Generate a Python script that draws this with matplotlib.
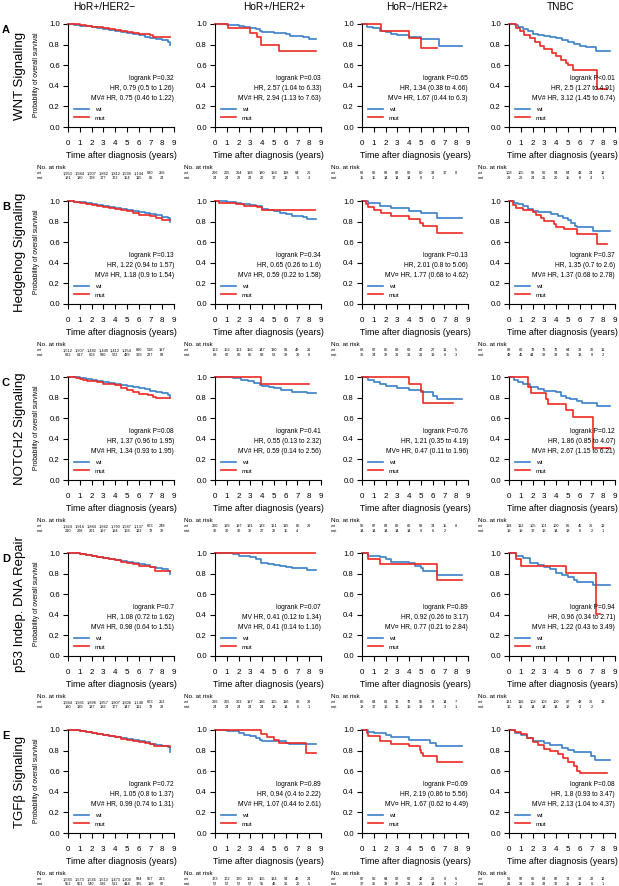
import matplotlib
matplotlib.use("Agg")
import matplotlib.pyplot as plt

plt.rcParams["font.family"] = ["Liberation Sans", "DejaVu Sans"]

W, H = 619, 886
BLUE = "#3a80c8"
RED = "#ee2a24"

col_titles = ["HoR+/HER2\u2212", "HoR+/HER2+", "HoR\u2212/HER2+", "TNBC"]
row_titles = ["WNT Signaling", "Hedgehog Signaling", "NOTCH2 Signaling",
              "p53 Indep. DNA Repair", "TGF\u03b2 Signaling"]
row_letters = ["A", "B", "C", "D", "E"]
years = [0, 1, 2, 3, 4, 5, 6, 7, 8, 9]

# ---- survival curves (time, survival) ----
A1_wt = [(0, 1), (0.5, 0.995), (1, 0.985), (1.5, 0.977), (2, 0.968), (2.5, 0.958), (3, 0.948), (3.5, 0.94),
         (4, 0.93), (4.5, 0.921), (5, 0.91), (5.5, 0.9), (6, 0.89), (6.5, 0.878), (7, 0.866), (7.5, 0.855),
         (8, 0.843), (8.5, 0.83), (8.7, 0.8)]
A1_mut = [(0, 1), (0.5, 0.997), (1, 0.99), (1.5, 0.983), (2, 0.975), (2.5, 0.968), (3, 0.96), (3.5, 0.952),
          (4, 0.942), (4.5, 0.932), (5, 0.922), (5.5, 0.913), (6, 0.905), (6.5, 0.9), (7, 0.895), (7.2, 0.875),
          (8.7, 0.875)]
A2_wt = [(0, 1), (1, 0.995), (1.5, 0.99), (2, 0.98), (2.5, 0.97), (3, 0.96), (3.5, 0.95), (3.8, 0.935), (4, 0.925),
         (4.5, 0.92), (5, 0.915), (5.5, 0.91), (6, 0.9), (6.4, 0.885), (7, 0.88), (7.5, 0.87), (8, 0.858), (8.6, 0.858)]
A2_mut = [(0, 1), (1.1, 0.958), (3.0, 0.917), (3.6, 0.875), (3.9, 0.792), (5.4, 0.735), (8.6, 0.735)]
A3_wt = [(0, 1), (0.4, 0.975), (0.9, 0.96), (1.5, 0.935), (2.0, 0.92), (2.5, 0.905), (3.0, 0.895), (4.0, 0.875),
         (5.0, 0.85), (6.5, 0.79), (8.5, 0.79)]
A3_mut = [(0, 1), (1.6, 0.933), (4.0, 0.867), (5.0, 0.77), (6.4, 0.77)]
A4_wt = [(0, 1), (0.5, 0.99), (0.8, 0.975), (1.2, 0.955), (1.6, 0.93), (2.0, 0.905), (2.5, 0.895), (3.0, 0.885),
         (3.5, 0.875), (4.0, 0.86), (4.5, 0.84), (5.0, 0.825), (5.5, 0.81), (6.0, 0.79), (6.5, 0.775), (7.4, 0.74),
         (8.6, 0.74)]
A4_mut = [(0, 1), (0.56, 0.965), (0.9, 0.93), (1.3, 0.895), (1.75, 0.86), (2.2, 0.825), (2.6, 0.79), (3.0, 0.755),
          (3.65, 0.72), (4.0, 0.69), (4.4, 0.655), (4.8, 0.62), (5.0, 0.6), (5.4, 0.552), (7.5, 0.367), (8.3, 0.367)]

B1_wt = [(0, 1), (0.5, 0.995), (1, 0.987), (1.5, 0.978), (2, 0.968), (2.5, 0.96), (3, 0.95), (3.5, 0.94), (4, 0.93),
         (4.5, 0.92), (5, 0.91), (5.5, 0.902), (6, 0.895), (6.5, 0.882), (7, 0.87), (7.5, 0.86), (8, 0.848),
         (8.5, 0.835), (8.7, 0.8)]
B1_mut = [(0, 1), (0.5, 0.995), (1, 0.984), (1.5, 0.975), (2, 0.965), (2.5, 0.955), (3, 0.946), (3.5, 0.935),
          (4, 0.925), (4.5, 0.912), (5, 0.9), (5.5, 0.882), (6, 0.866), (6.5, 0.86), (7, 0.85), (7.5, 0.835),
          (8, 0.812), (8.7, 0.812)]
B2_wt = [(0, 1), (1.0, 0.995), (1.8, 0.985), (2.2, 0.975), (3.0, 0.965), (3.5, 0.95), (4.0, 0.925), (4.5, 0.91),
         (5.0, 0.9), (5.5, 0.885), (6.0, 0.87), (6.5, 0.85), (7.5, 0.845), (7.8, 0.824), (8.6, 0.824)]
B2_mut = [(0, 1), (0.3, 0.985), (1.8, 0.97), (2.5, 0.955), (3.6, 0.94), (4.0, 0.915), (8.5, 0.915)]
B3_wt = [(0, 1), (0.5, 0.985), (1.5, 0.955), (2.5, 0.93), (4.0, 0.905), (5.0, 0.885), (6.4, 0.837), (8.5, 0.837)]
B3_mut = [(0, 1), (0.3, 0.97), (0.5, 0.94), (1.0, 0.91), (1.6, 0.882), (2.5, 0.855), (4.0, 0.83), (4.9, 0.79),
          (5.2, 0.76), (6.4, 0.687), (8.5, 0.687)]
B4_wt = [(0, 1), (0.4, 0.985), (0.8, 0.97), (1.2, 0.95), (1.6, 0.925), (2.0, 0.9), (2.5, 0.89), (3.6, 0.87),
         (4.2, 0.855), (4.6, 0.835), (5.0, 0.815), (5.3, 0.79), (5.6, 0.76), (5.8, 0.75), (7.1, 0.71), (8.6, 0.71)]
B4_mut = [(0, 1), (0.35, 0.965), (0.6, 0.935), (1.2, 0.912), (2.0, 0.89), (2.3, 0.865), (2.7, 0.835), (3.0, 0.805),
          (3.8, 0.78), (4.0, 0.752), (4.7, 0.732), (5.8, 0.68), (7.5, 0.583), (8.3, 0.583)]

C1_wt = [(0, 1), (0.5, 0.997), (1, 0.99), (1.5, 0.982), (2, 0.973), (2.5, 0.965), (3, 0.955), (3.5, 0.945),
         (4, 0.935), (4.5, 0.925), (5, 0.913), (5.5, 0.903), (6, 0.893), (6.5, 0.88), (7, 0.868), (7.5, 0.855),
         (8, 0.842), (8.5, 0.83), (8.7, 0.8)]
C1_mut = [(0, 1), (0.7, 0.995), (1.0, 0.985), (1.3, 0.97), (1.6, 0.958), (2.5, 0.952), (3.0, 0.93), (4.0, 0.918),
          (4.5, 0.895), (5.0, 0.875), (5.5, 0.855), (6.0, 0.838), (6.8, 0.825), (7.2, 0.81), (7.5, 0.8), (8.7, 0.8)]
C2_wt = [(0, 1), (1.5, 0.99), (2.2, 0.975), (2.8, 0.96), (3.3, 0.945), (3.8, 0.925), (4.0, 0.912), (4.6, 0.903),
         (5.0, 0.89), (5.6, 0.878), (6.0, 0.87), (6.5, 0.855), (7.8, 0.84), (8.6, 0.84)]
C2_mut = [(0, 1), (3.9, 0.935), (8.0, 0.935)]
C3_wt = [(0, 1), (0.5, 0.975), (1.0, 0.955), (1.5, 0.93), (2.0, 0.91), (3.0, 0.89), (4.0, 0.87), (5.0, 0.85),
         (6.0, 0.82), (6.4, 0.785), (8.5, 0.785)]
C3_mut = [(0, 1), (4.0, 0.93), (5.0, 0.86), (5.2, 0.746), (7.7, 0.746)]
C4_wt = [(0, 1), (0.4, 0.975), (0.8, 0.955), (1.2, 0.935), (1.8, 0.905), (2.5, 0.88), (3.0, 0.865), (4.0, 0.85),
         (4.4, 0.82), (4.8, 0.8), (5.2, 0.785), (5.8, 0.765), (6.2, 0.748), (7.0, 0.745), (7.5, 0.715), (8.6, 0.715)]
C4_mut = [(0, 1), (1.6, 0.9), (1.9, 0.842), (3.1, 0.79), (3.3, 0.737), (4.8, 0.684), (5.4, 0.61), (7.1, 0.31),
          (8.6, 0.31)]

D1_wt = [(0, 1), (0.5, 0.997), (1, 0.99), (1.5, 0.982), (2, 0.973), (2.5, 0.963), (3, 0.953), (3.5, 0.942),
         (4, 0.932), (4.5, 0.92), (5, 0.91), (5.5, 0.9), (6, 0.892), (6.5, 0.88), (7, 0.865), (7.5, 0.852),
         (8, 0.84), (8.5, 0.83), (8.7, 0.8)]
D1_mut = [(0, 1), (0.5, 0.997), (1, 0.99), (1.5, 0.98), (2, 0.97), (2.5, 0.962), (3, 0.952), (3.5, 0.94),
          (4, 0.93), (4.5, 0.915), (5, 0.905), (5.5, 0.893), (6, 0.875), (6.5, 0.87), (7, 0.863), (7.4, 0.83),
          (8.0, 0.828), (8.7, 0.828)]
D2_wt = [(0, 1), (1.5, 0.99), (2.0, 0.975), (3.0, 0.96), (3.5, 0.94), (3.9, 0.905), (4.5, 0.895), (5.0, 0.88),
         (5.5, 0.87), (6.0, 0.86), (6.5, 0.85), (7.8, 0.835), (8.6, 0.835)]
D2_mut = [(0, 1), (8.5, 1)]
D3_wt = [(0, 1), (0.5, 0.975), (1.5, 0.96), (2.0, 0.94), (2.5, 0.91), (4.0, 0.905), (4.5, 0.875), (5.0, 0.85),
         (5.2, 0.825), (6.4, 0.79), (8.5, 0.79)]
D3_mut = [(0, 1), (0.5, 0.945), (1.5, 0.895), (6.4, 0.741), (8.5, 0.741)]
D4_wt = [(0, 1), (0.6, 0.97), (1.2, 0.95), (1.8, 0.9), (2.5, 0.88), (3.0, 0.86), (3.5, 0.84), (4.0, 0.81),
         (4.5, 0.785), (5.0, 0.77), (5.5, 0.74), (5.8, 0.72), (7.1, 0.69), (8.6, 0.69)]
D4_mut = [(0, 1), (0.6, 0.94), (1.0, 0.875), (4.8, 0.81), (7.4, 0.405), (7.7, 0.405)]

E1_wt = [(0, 1), (0.5, 0.998), (1, 0.99), (1.5, 0.98), (2, 0.972), (2.5, 0.963), (3, 0.953), (3.5, 0.943),
         (4, 0.933), (4.5, 0.923), (5, 0.913), (5.5, 0.903), (6, 0.893), (6.5, 0.88), (7, 0.868), (7.5, 0.855),
         (8, 0.845), (8.5, 0.835), (8.7, 0.785)]
E1_mut = [(0, 1), (0.5, 0.998), (1, 0.994), (1.5, 0.985), (2, 0.975), (2.5, 0.963), (3, 0.95), (3.5, 0.94),
          (4, 0.928), (4.5, 0.915), (5, 0.903), (5.5, 0.895), (6, 0.888), (6.5, 0.877), (7.0, 0.865), (7.3, 0.84),
          (8.7, 0.835)]
E2_wt = [(0, 1), (1.0, 0.99), (2.0, 0.97), (2.5, 0.955), (3.0, 0.945), (3.5, 0.925), (3.8, 0.9), (4.0, 0.89),
         (6.0, 0.875), (6.3, 0.865), (8.6, 0.865)]
E2_mut = [(0, 1), (3.9, 0.965), (4.4, 0.93), (5.0, 0.9), (5.4, 0.875), (7.7, 0.776), (8.6, 0.776)]
E3_wt = [(0, 1), (0.5, 0.98), (1.0, 0.97), (2.0, 0.95), (2.5, 0.93), (4.0, 0.9), (5.8, 0.875), (6.3, 0.847),
         (8.5, 0.847)]
E3_mut = [(0, 1), (0.4, 0.97), (0.5, 0.94), (1.5, 0.89), (2.5, 0.865), (4.0, 0.84), (4.9, 0.81), (5.0, 0.78),
          (5.2, 0.75), (6.4, 0.688), (8.5, 0.688)]
E4_wt = [(0, 1), (0.5, 0.97), (1.0, 0.95), (1.5, 0.92), (2.0, 0.895), (3.0, 0.875), (3.5, 0.855), (4.5, 0.825),
         (5.0, 0.81), (5.5, 0.79), (7.0, 0.75), (7.3, 0.71), (8.6, 0.71)]
E4_mut = [(0, 1), (0.5, 0.98), (1.0, 0.96), (1.5, 0.925), (2.0, 0.885), (2.5, 0.85), (3.0, 0.82), (3.5, 0.8),
          (4.2, 0.77), (4.6, 0.725), (5.0, 0.69), (5.5, 0.65), (5.8, 0.6), (6.0, 0.58), (8.3, 0.58)]

# ---- statistics text ----
stats_A = [("logrank P=0.32", "HR, 0.79 (0.5 to 1.26)", "MV# HR, 0.75 (0.46 to 1.22)"),
           ("logrank P=0.03", "HR, 2.57 (1.04 to 6.33)", "MV# HR, 2.94 (1.13 to 7.63)"),
           ("logrank P=0.65", "HR, 1.34 (0.38 to 4.66)", "MV\u00a4 HR, 1.67 (0.44 to 6.3)"),
           ("logrank P<0.01", "HR, 2.5 (1.27 to 4.91)", "MV# HR, 3.12 (1.45 to 6.74)")]
stats_B = [("logrank P=0.13", "HR, 1.22 (0.94 to 1.57)", "MV# HR, 1.18 (0.9 to 1.54)"),
           ("logrank P=0.34", "HR, 0.65 (0.26 to 1.6)", "MV# HR, 0.59 (0.22 to 1.58)"),
           ("logrank P=0.13", "HR, 2.01 (0.8 to 5.06)", "MV\u00a4 HR, 1.77 (0.68 to 4.62)"),
           ("logrank P=0.37", "HR, 1.35 (0.7 to 2.6)", "MV# HR, 1.37 (0.68 to 2.78)")]
stats_C = [("logrank P=0.08", "HR, 1.37 (0.96 to 1.95)", "MV# HR, 1.34 (0.93 to 1.95)"),
           ("logrank P=0.41", "HR, 0.55 (0.13 to 2.32)", "MV# HR, 0.59 (0.14 to 2.56)"),
           ("logrank P=0.76", "HR, 1.21 (0.35 to 4.19)", "MV\u00a4 HR, 0.47 (0.11 to 1.96)"),
           ("logrank P=0.12", "HR, 1.86 (0.85 to 4.07)", "MV# HR, 2.67 (1.15 to 6.21)")]
stats_D = [("logrank P=0.7", "HR, 1.08 (0.72 to 1.62)", "MV# HR, 0.98 (0.64 to 1.51)"),
           ("logrank P=0.07", "MV HR, 0.41 (0.12 to 1.34)", "MV# HR, 0.41 (0.14 to 1.16)"),
           ("logrank P=0.89", "HR, 0.92 (0.26 to 3.17)", "MV\u00a4 HR, 0.77 (0.21 to 2.84)"),
           ("logrank P=0.94", "HR, 0.96 (0.34 to 2.71)", "MV# HR, 1.22 (0.43 to 3.49)")]
stats_E = [("logrank P=0.72", "HR, 1.05 (0.8 to 1.37)", "MV# HR, 0.99 (0.74 to 1.31)"),
           ("logrank P=0.89", "HR, 0.94 (0.4 to 2.22)", "MV# HR, 1.07 (0.44 to 2.61)"),
           ("logrank P=0.09", "HR, 2.19 (0.86 to 5.56)", "MV\u00a4 HR, 1.67 (0.62 to 4.49)"),
           ("logrank P=0.08", "HR, 1.8 (0.93 to 3.47)", "MV# HR, 2.13 (1.04 to 4.37)")]

# ---- numbers at risk (years 0..8) ----
risk_A_wt = [["1,953", "1,944", "1,907", "1,862", "1,812", "1,599", "1,144", "680", "256"],
             ["206", "205", "204", "198", "190", "166", "118", "64", "26"],
             ["89", "86", "83", "80", "80", "60", "38", "17", "8"],
             ["108", "105", "98", "96", "94", "84", "43", "24", "12"]]
risk_A_mut = [["181", "180", "178", "177", "172", "154", "115", "65", "24"],
              ["24", "24", "23", "23", "20", "17", "12", "5", "3"],
              ["15", "15", "14", "14", "14", "8", "2"],
              ["29", "26", "24", "21", "20", "15", "8", "4", "1"]]
risk_B_wt = [["1,512", "1,507", "1,482", "1,449", "1,412", "1,254", "890", "518", "197"],
             ["162", "162", "161", "156", "147", "130", "91", "49", "21"],
             ["68", "67", "65", "63", "63", "47", "27", "11", "5"],
             ["88", "86", "78", "76", "76", "64", "38", "20", "11"]]
risk_B_mut = [["622", "617", "603", "590", "572", "499", "369", "227", "83"],
              ["68", "67", "66", "65", "63", "53", "39", "20", "8"],
              ["36", "34", "32", "31", "31", "21", "13", "6", "3"],
              ["49", "45", "44", "39", "38", "35", "13", "8", "2"]]
risk_C_wt = [["1,924", "1,916", "1,884", "1,842", "1,790", "1,587", "1,137", "673", "248"],
             ["200", "199", "197", "191", "183", "161", "115", "65", "29"],
             ["90", "87", "83", "80", "80", "59", "34", "15", "8"],
             ["118", "112", "105", "101", "100", "86", "45", "26", "12"]]
risk_C_mut = [["210", "208", "201", "197", "194", "166", "122", "72", "32"],
              ["30", "30", "30", "30", "27", "22", "15", "4"],
              ["14", "14", "14", "14", "14", "9", "6", "2"],
              ["19", "19", "17", "16", "14", "13", "6", "2", "1"]]
risk_D_wt = [["1,944", "1,935", "1,898", "1,857", "1,807", "1,606", "1,148", "673", "252"],
             ["206", "205", "203", "197", "186", "165", "116", "63", "28"],
             ["86", "84", "81", "78", "78", "55", "32", "14", "7"],
             ["121", "116", "108", "103", "100", "87", "48", "26", "13"]]
risk_D_mut = [["190", "189", "187", "182", "177", "147", "111", "72", "28"],
              ["24", "24", "24", "24", "24", "18", "14", "6", "1"],
              ["18", "17", "16", "16", "16", "13", "8", "3", "1"],
              ["16", "15", "14", "14", "14", "12", "3", "2"]]
risk_E_wt = [["1,583", "1,573", "1,545", "1,513", "1,473", "1,309", "934", "557", "213"],
             ["173", "172", "170", "164", "155", "134", "94", "49", "24"],
             ["67", "66", "64", "62", "62", "42", "26", "9", "6"],
             ["96", "92", "86", "84", "82", "74", "39", "22", "12"]]
risk_E_mut = [["551", "551", "540", "526", "511", "444", "325", "188", "67"],
              ["57", "57", "57", "57", "55", "49", "36", "20", "5"],
              ["37", "35", "33", "32", "32", "26", "14", "8", "2"],
              ["41", "39", "36", "33", "32", "25", "12", "6", "1"]]

curves = [[(A1_wt, A1_mut), (A2_wt, A2_mut), (A3_wt, A3_mut), (A4_wt, A4_mut)],
          [(B1_wt, B1_mut), (B2_wt, B2_mut), (B3_wt, B3_mut), (B4_wt, B4_mut)],
          [(C1_wt, C1_mut), (C2_wt, C2_mut), (C3_wt, C3_mut), (C4_wt, C4_mut)],
          [(D1_wt, D1_mut), (D2_wt, D2_mut), (D3_wt, D3_mut), (D4_wt, D4_mut)],
          [(E1_wt, E1_mut), (E2_wt, E2_mut), (E3_wt, E3_mut), (E4_wt, E4_mut)]]
stats = [stats_A, stats_B, stats_C, stats_D, stats_E]
risk_wt = [risk_A_wt, risk_B_wt, risk_C_wt, risk_D_wt, risk_E_wt]
risk_mut = [risk_A_mut, risk_B_mut, risk_C_mut, risk_D_mut, risk_E_mut]

# layout in pixels
col_x = [68, 215, 362, 509]
row_top = [24, 201, 377, 553, 730]
AXW, AXH = 106, 103
title_x = [104, 274, 417, 561]
PT = 0.72  # points per pixel at dpi 100

fig = plt.figure(figsize=(W / 100, H / 100), dpi=100)

for ci, t in enumerate(col_titles):
    fig.text(title_x[ci] / W, 1 - 7.5 / H, t, ha="center", va="center", fontsize=7.3)

for ri in range(5):
    top = row_top[ri]
    fig.text(2 / W, 1 - (top + 6) / H, row_letters[ri], ha="left", va="center",
             fontsize=8, fontweight="bold")
    fig.text(20.5 / W, 1 - (top + AXH / 2) / H, row_titles[ri], rotation=90, ha="center",
             va="center", fontsize=9.5)
    fig.text(36 / W, 1 - (top + AXH / 2 - 1) / H, "Probability of overall survival", rotation=90,
             ha="center", va="center", fontsize=4.8)

    for ci in range(4):
        ax = fig.add_axes([col_x[ci] / W, 1 - (top + AXH) / H, AXW / W, AXH / H])
        wt, mut = curves[ri][ci]
        ax.step([p[0] for p in wt], [p[1] for p in wt], where="post", color=BLUE, lw=1.2,
                label="wt", clip_on=False)
        ax.step([p[0] for p in mut], [p[1] for p in mut], where="post", color=RED, lw=1.2,
                label="mut", clip_on=False)
        ax.set_xlim(0, 9)
        ax.set_ylim(0, 1)
        ax.set_xticks(years)
        ax.set_yticks([0, 0.2, 0.4, 0.6, 0.8, 1.0])
        ax.set_yticklabels(["0.0", "0.2", "0.4", "0.6", "0.8", "1.0"])
        for s in ["top", "right"]:
            ax.spines[s].set_visible(False)
        for s in ["left", "bottom"]:
            ax.spines[s].set_linewidth(0.8)
        ax.tick_params(axis="x", length=3.6, width=0.8, labelsize=5.8, pad=5.5)
        ax.tick_params(axis="y", length=3.6, width=0.8, labelsize=5.6, pad=2.2)
        ax.patch.set_visible(False)

        ax.legend(loc="center left", bbox_to_anchor=(0.061, 0.128), frameon=False,
                  fontsize=4.6, handlelength=2.2, handletextpad=1.0, labelspacing=0.45,
                  borderpad=0, borderaxespad=0)

        for k, line in enumerate(stats[ri][ci]):
            ax.text(1.0, [0.47, 0.374, 0.277][k], line, transform=ax.transAxes, ha="right",
                    va="center", fontsize=4.75)

        ax.annotate("Time after diagnosis (years)", xy=(0.5, 0), xycoords="axes fraction",
                    xytext=(0, -28.5 * PT), textcoords="offset points", ha="center", va="center",
                    fontsize=6.4)

        # numbers at risk table
        ax.annotate("No. at risk", xy=(0, 0), xycoords="axes fraction", xytext=(-31 * PT, -40.5 * PT),
                    textcoords="offset points", ha="left", va="center", fontsize=4.6)
        xt = ax.get_xaxis_transform()
        for lab, vals, dy in [("wt", risk_wt[ri][ci], -46.3), ("mut", risk_mut[ri][ci], -51.3)]:
            ax.annotate(lab, xy=(0, 0), xycoords="axes fraction", xytext=(-31 * PT, dy * PT),
                        textcoords="offset points", ha="left", va="center", fontsize=2.8)
            for i, v in enumerate(vals):
                ax.annotate(v, xy=(years[i], 0), xycoords=xt, xytext=(0, dy * PT),
                            textcoords="offset points", ha="center", va="center", fontsize=2.8)

fig.savefig("out.png", dpi=100)
